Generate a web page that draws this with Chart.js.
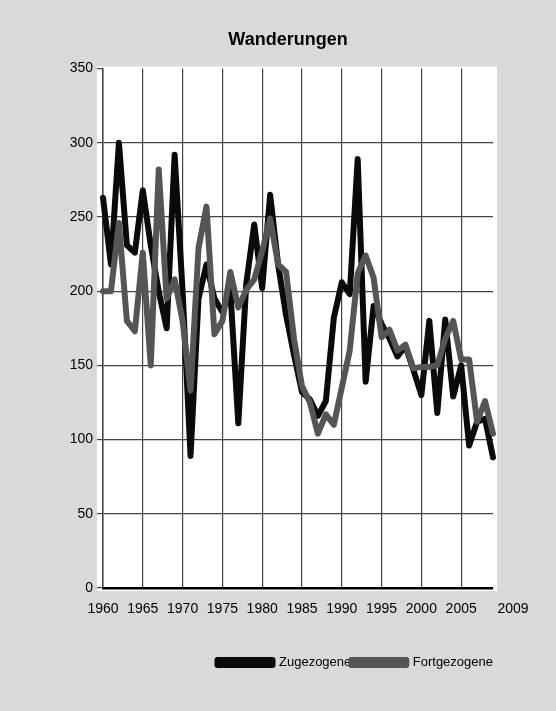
<!DOCTYPE html>
<html>
<head>
<meta charset="utf-8">
<title>Wanderungen</title>
<script src="https://cdn.jsdelivr.net/npm/chart.js@4.4.1/dist/chart.umd.min.js"></script>
<style>
    html, body { margin: 0; padding: 0; background: #d9d9d9; }
    #wrap { width: 556px; height: 711px; }
</style>
</head>
<body>
<div id="wrap"><canvas id="wanderChart" width="556" height="711"></canvas></div>
<script>
// Years on the category axis
const years = [
    1960, 1961, 1962, 1963, 1964, 1965, 1966, 1967, 1968, 1969,
    1970, 1971, 1972, 1973, 1974, 1975, 1976, 1977, 1978, 1979,
    1980, 1981, 1982, 1983, 1984, 1985, 1986, 1987, 1988, 1989,
    1990, 1991, 1992, 1993, 1994, 1995, 1996, 1997, 1998, 1999,
    2000, 2001, 2002, 2003, 2004, 2005, 2006, 2007, 2008, 2009
];

// Zugezogene (black line)
const zugezogene = [
    263, 218, 300, 231, 226, 268, 231, 200, 175, 292,
    200, 89, 195, 218, 195, 186, 200, 111, 205, 245,
    202, 265, 218, 184, 157, 132, 127, 116, 126, 182,
    206, 198, 289, 139, 190, 178, 168, 156, 163, 147,
    130, 180, 118, 181, 129, 150, 96, 112, 114, 88
];

// Fortgezogene (grey line)
const fortgezogene = [
    200, 200, 246, 180, 173, 226, 150, 282, 195, 208,
    180, 133, 229, 257, 171, 180, 213, 189, 201, 208,
    227, 249, 218, 213, 168, 136, 125, 104, 117, 110,
    135, 160, 212, 224, 209, 169, 174, 160, 164, 148,
    149, 149, 150, 168, 180, 154, 154, 112, 126, 104
];

// Years that get a label and a grid line
const labelYears = [1960, 1965, 1970, 1975, 1980, 1985, 1990, 1995, 2000, 2005, 2009];
const gridYears = [1960, 1965, 1970, 1975, 1980, 1985, 1990, 1995, 2000, 2005];

const fontFamily = '"Liberation Sans", Arial, sans-serif';
const gridColor = '#444444';

// white plot area behind the lines, slightly larger than the chart area (like Excel)
const plotBackground = {
    id: 'plotBackground',
    beforeDraw(chart) {
        const { ctx, chartArea } = chart;
        ctx.save();
        ctx.fillStyle = '#ffffff';
        ctx.fillRect(chartArea.left - 6, chartArea.top - 2,
            chartArea.right - chartArea.left + 10, chartArea.bottom - chartArea.top + 5);
        ctx.restore();
    }
};

// the last label (2009) sits a bit to the right of its tick in the original
const shiftLastLabel = {
    id: 'shiftLastLabel',
    beforeDraw(chart) {
        const items = chart.scales.x.getLabelItems();
        items.forEach(item => {
            if (item.label === '2009') {
                item.options.translation[0] += 20;
            }
        });
    }
};

const ctx = document.getElementById('wanderChart').getContext('2d');
const wanderChart = new Chart(ctx, {
    type: 'line',
    data: {
        labels: years,
        datasets: [
            {
                label: 'Zugezogene',
                data: zugezogene,
                borderColor: '#0a0a0a',
                backgroundColor: '#0a0a0a',
                borderWidth: 6,
                pointRadius: 0,
                tension: 0,
                borderJoinStyle: 'round',
                borderCapStyle: 'round',
                order: 1
            },
            {
                label: 'Fortgezogene',
                data: fortgezogene,
                borderColor: '#555555',
                backgroundColor: '#555555',
                borderWidth: 6,
                pointRadius: 0,
                tension: 0,
                borderJoinStyle: 'round',
                borderCapStyle: 'round',
                order: 0
            }
        ]
    },
    options: {
        responsive: false,
        animation: false,
        layout: {
            padding: { left: 40, right: 20, top: 0, bottom: 32 }
        },
        plugins: {
            title: {
                display: true,
                text: 'Wanderungen',
                color: '#000000',
                font: { family: fontFamily, size: 18, weight: 'bold' },
                padding: { top: 29, bottom: 18 }
            },
            legend: {
                position: 'bottom',
                align: 'end',
                fullSize: false,
                labels: {
                    boxWidth: 55,
                    boxHeight: 5,
                    padding: 0,
                    color: '#000000',
                    font: { family: fontFamily, size: 13 },
                    sort: (a, b) => a.datasetIndex - b.datasetIndex
                }
            },
            tooltip: { enabled: false }
        },
        scales: {
            x: {
                type: 'category',
                afterFit: function(scale) {
                    scale.height = 68;
                    scale.paddingLeft = 0;
                    scale.paddingRight = 63;
                },
                grid: {
                    drawTicks: false,
                    lineWidth: 1.2,
                    color: function(context) {
                        const year = years[context.index];
                        return gridYears.includes(year) ? gridColor : 'rgba(0,0,0,0)';
                    }
                },
                border: { display: true, color: '#000000', width: 2.5 },
                ticks: {
                    autoSkip: false,
                    maxRotation: 0,
                    padding: 13,
                    color: '#000000',
                    font: { family: fontFamily, size: 14 },
                    callback: function(value, index) {
                        const year = years[index];
                        return labelYears.includes(year) ? String(year) : '';
                    }
                }
            },
            y: {
                min: 0,
                max: 350,
                afterFit: function(scale) {
                    scale.width = 63;
                },
                ticks: {
                    stepSize: 50,
                    padding: 4,
                    color: '#000000',
                    font: { family: fontFamily, size: 14 }
                },
                grid: {
                    drawTicks: true,
                    tickLength: 6,
                    tickColor: gridColor,
                    lineWidth: 1.2,
                    color: function(context) {
                        const v = context.tick.value;
                        return (v === 0 || v === 350) ? 'rgba(0,0,0,0)' : gridColor;
                    }
                },
                border: { display: true, color: gridColor, width: 1.5 }
            }
        }
    },
    plugins: [plotBackground, shiftLastLabel]
});
</script>
</body>
</html>
